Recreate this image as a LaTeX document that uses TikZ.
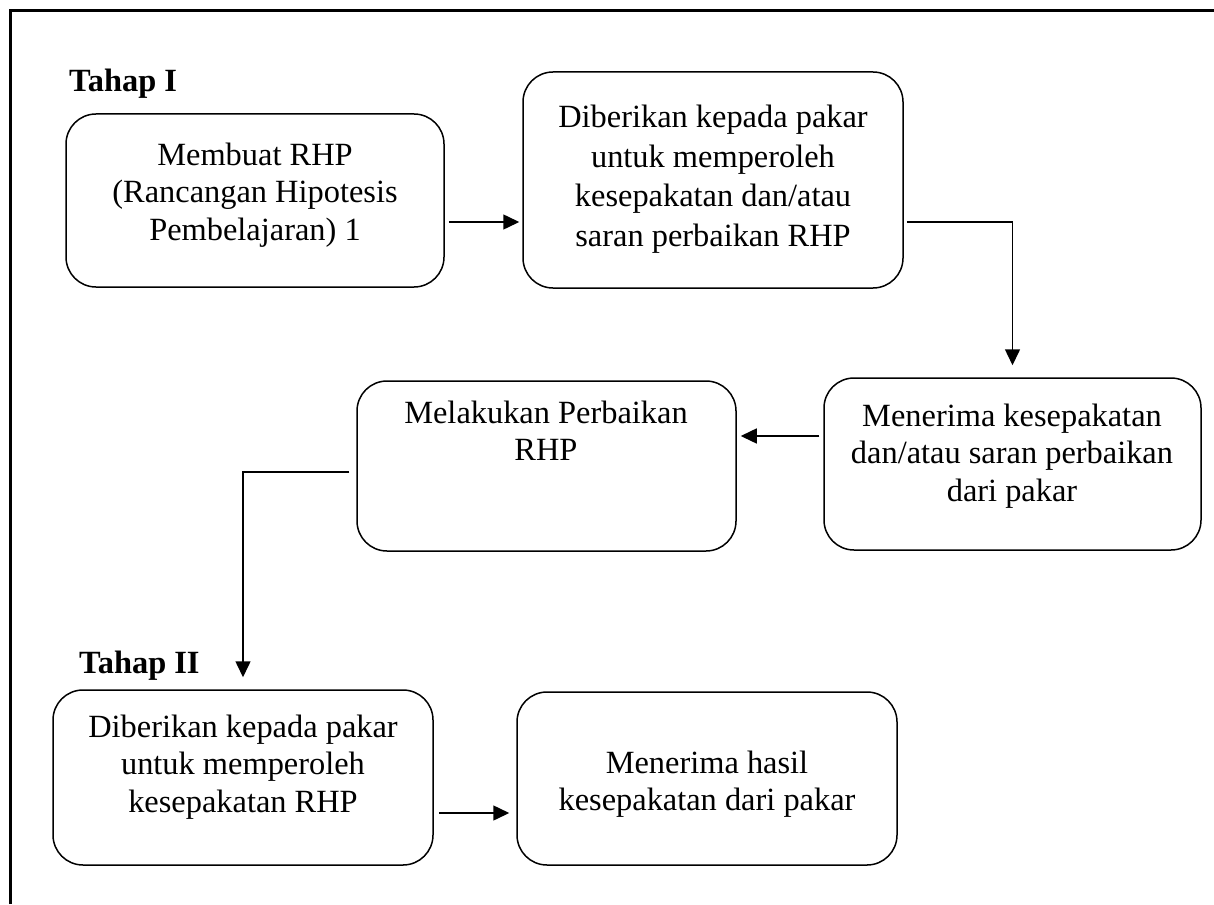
\documentclass[tikz,border=0pt]{standalone}
\usepackage{fontspec}
\setmainfont{Liberation Serif}
\usetikzlibrary{arrows.meta,calc}
\begin{document}
\begin{tikzpicture}[x=1pt,y=-1pt,
 box/.style={draw, line width=1.5pt, rounded corners=30pt, inner sep=0pt},
 txt/.style={align=center, font=\fontsize{32.4}{37.5}\selectfont, inner sep=0pt},
 lbl/.style={font=\fontsize{32.4}{37.5}\selectfont\bfseries, inner sep=0pt, anchor=base west},
 arr/.style={line width=1.5pt, -{Triangle[length=16pt,width=15pt]}}]
\useasboundingbox (0,0) rectangle (1214,904);
\draw[line width=3pt] (10,904) -- (10,11) -- (1214,11);

\node[lbl] (t1) at (69,92) {Tahap I};
\node[lbl] (t2) at (79,673) {Tahap II};

\node[box, minimum width=378pt, minimum height=173pt] (a) at (255,200.5) {};
\node[box, minimum width=380pt, minimum height=216pt] (b) at (713,180) {};
\node[box, minimum width=377pt, minimum height=172pt] (c) at (1012.5,464) {};
\node[box, minimum width=379pt, minimum height=170pt] (d) at (546.5,466) {};
\node[box, minimum width=380pt, minimum height=175pt] (e) at (243,777.5) {};
\node[box, minimum width=380pt, minimum height=173pt] (f) at (707,778.5) {};

\node[txt] (ta) at (255,195) {Membuat RHP\\(Rancangan Hipotesis\\Pembelajaran) 1};
\node[txt, font=\fontsize{32.4}{39.5}\selectfont] (tb) at (713,179) {Diberikan kepada pakar\\untuk memperoleh\\kesepakatan dan/atau\\saran perbaikan RHP};
\node[txt] (tc) at (1012,456) {Menerima kesepakatan\\dan/atau saran perbaikan\\dari pakar};
\node[txt] (td) at (546,431) {Melakukan Perbaikan\\RHP};
\node[txt] (te) at (243,767) {Diberikan kepada pakar\\untuk memperoleh\\kesepakatan RHP};
\node[txt] (tf) at (707,784) {Menerima hasil\\kesepakatan dari pakar};

\draw[arr] ($(a.east)+(4,21.5)$) -- ($(b.west)+(-3,42)$);
\draw[arr] ($(b.east)+(3,42)$) -| ($(c.north)+(0,-12)$);
\draw[arr] ($(c.west)+(-4,-28)$) -- ($(d.east)+(4,-30)$);
\draw[arr] ($(d.west)+(-7,6)$) -| ($(e.north)+(0,-12)$);
\draw[arr] ($(e.east)+(5,35.5)$) -- ($(f.west)+(-7,34.5)$);
\end{tikzpicture}
\end{document}
